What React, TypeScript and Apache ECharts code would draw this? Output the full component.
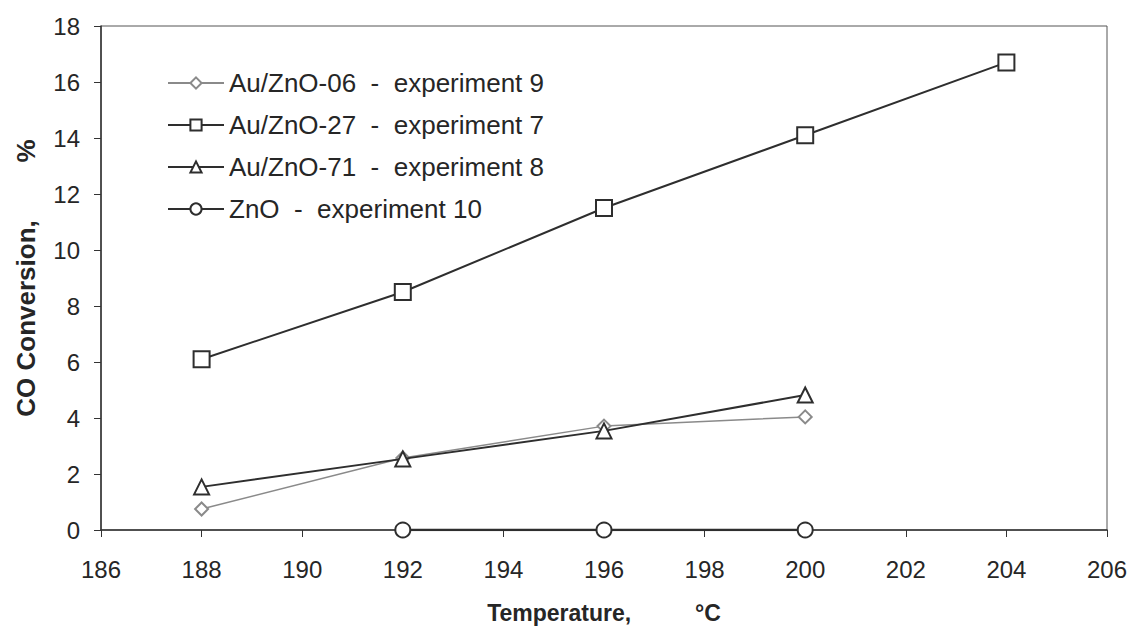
import React, { useEffect, useRef } from "react";
import * as echarts from "echarts";

const temps06 = [188, 192, 196, 200];
const vals06 = [0.75, 2.57, 3.71, 4.04];
const temps27 = [188, 192, 196, 200, 204];
const vals27 = [6.1, 8.5, 11.5, 14.1, 16.7];
const temps71 = [188, 192, 196, 200];
const vals71 = [1.54, 2.54, 3.54, 4.82];
const tempsZnO = [192, 196, 200];
const valsZnO = [0, 0, 0];

const seriesNames = [
  "Au/ZnO-06  -  experiment 9",
  "Au/ZnO-27  -  experiment 7",
  "Au/ZnO-71  -  experiment 8",
  "ZnO  -  experiment 10",
];

const pair = (xs: number[], ys: number[]) => xs.map((x, i) => [x, ys[i]]);

export default function App() {
  const ref = useRef<HTMLDivElement>(null);
  useEffect(() => {
    if (!ref.current) return;
    const chart = echarts.init(ref.current, null, { renderer: "svg" });
    const font = "Arial, 'Liberation Sans', sans-serif";
    const dark = "#2e2e2e";
    const mk = (name: string, data: number[][], symbol: string, size: number, color: string, width: number, z: number) => ({
      name,
      type: "line",
      data,
      symbol,
      symbolSize: size,
      showAllSymbol: true,
      z,
      lineStyle: { color, width },
      itemStyle: { color: "#ffffff", borderColor: color, borderWidth: 2 },
    });
    chart.setOption({
      animation: false,
      backgroundColor: "#ffffff",
      grid: {
        left: 101, right: 27, top: 26, bottom: 102, containLabel: false,
        show: true, borderColor: "#555", borderWidth: 1, backgroundColor: "transparent",
      },
      legend: {
        orient: "vertical",
        left: 162,
        top: 64,
        itemGap: 14,
        itemWidth: 56,
        itemHeight: 14,
        textStyle: { fontFamily: font, fontSize: 26, color: "#262626", lineHeight: 28 },
        data: seriesNames,
      },
      xAxis: {
        type: "value",
        min: 186,
        max: 206,
        interval: 2,
        splitLine: { show: false },
        axisLine: { show: true, onZero: false, lineStyle: { color: "#333", width: 1.5 } },
        axisTick: { show: true, inside: false, length: 7, lineStyle: { color: "#333" } },
        axisLabel: { fontFamily: font, fontSize: 24, color: "#262626", margin: 27 },
        name: "Temperature,          °C",
        nameLocation: "middle",
        nameGap: 71,
        nameTextStyle: { fontFamily: font, fontSize: 23, fontWeight: "bold", color: "#262626" },
      },
      yAxis: {
        type: "value",
        min: 0,
        max: 18,
        interval: 2,
        splitLine: { show: false },
        axisLine: { show: true, lineStyle: { color: "#333", width: 1.5 } },
        axisTick: { show: true, inside: false, length: 7, lineStyle: { color: "#333" } },
        axisLabel: { fontFamily: font, fontSize: 24, color: "#262626", margin: 21 },
        name: "CO Conversion,        %",
        nameLocation: "middle",
        nameRotate: 90,
        nameGap: 62,
        nameTextStyle: { fontFamily: font, fontSize: 26, fontWeight: "bold", color: "#262626" },
      },
      series: [
        mk(seriesNames[0], pair(temps06, vals06), "diamond", 13, "#8a8a8a", 1.5, 3),
        mk(seriesNames[1], pair(temps27, vals27), "rect", 16, dark, 2, 4),
        mk(seriesNames[2], pair(temps71, vals71), "triangle", 15, dark, 2, 5),
        mk(seriesNames[3], pair(tempsZnO, valsZnO), "circle", 15, dark, 2.5, 6),
      ],
    });
    return () => chart.dispose();
  }, []);
  return <div ref={ref} style={{ width: 1134, height: 632, position: "absolute", left: 0, top: 0 }} />;
}
